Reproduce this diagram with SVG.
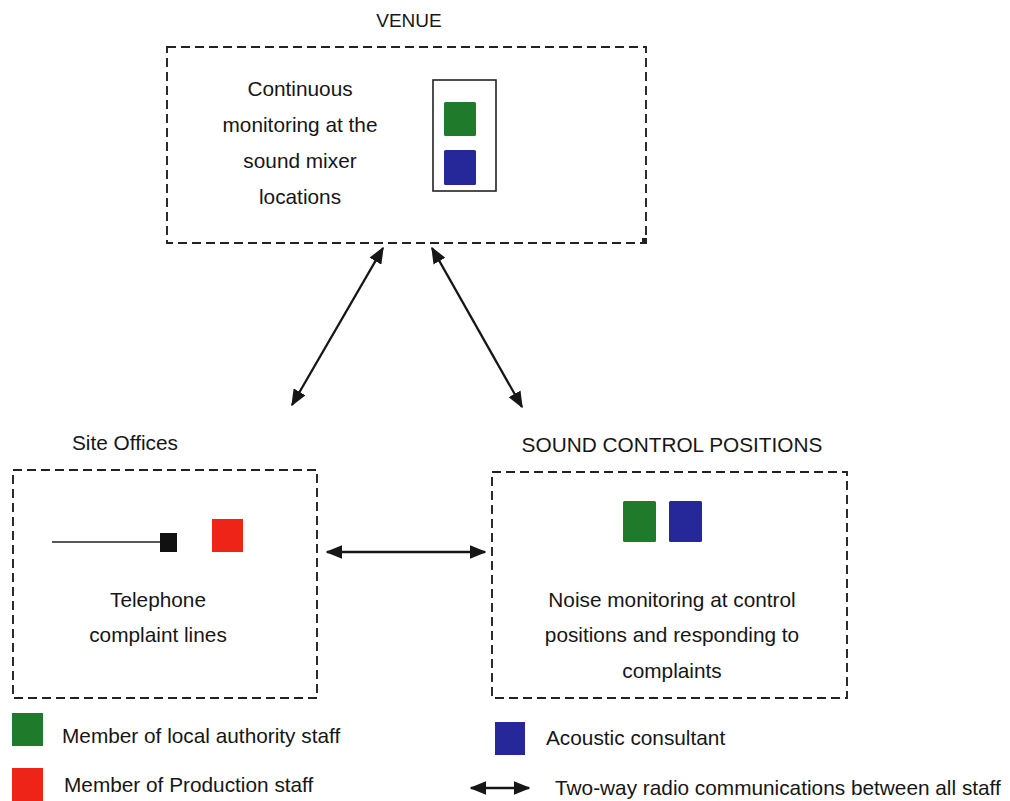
<svg xmlns="http://www.w3.org/2000/svg" width="1010" height="801" viewBox="0 0 1010 801">
<defs>
<style>
text{font-family:"Liberation Sans",Arial,sans-serif;fill:#161616;font-size:20.8px}
.c{text-anchor:middle}
.dash{fill:none;stroke:#222;stroke-width:1.9;stroke-dasharray:9 5}
.g{fill:#1f7a2c}
.b{fill:#26289a}
.r{fill:#ef2419}
.conn{stroke:#161616;stroke-width:2.3;fill:none;marker-start:url(#ah);marker-end:url(#ah)}
</style>
<marker id="ah" viewBox="0 0 12 10" refX="11" refY="5" markerWidth="7.2" markerHeight="6" orient="auto-start-reverse" markerUnits="strokeWidth">
<path d="M0,0 L12,5 L0,10 z" fill="#161616"/>
</marker>
</defs>
<rect width="1010" height="801" fill="#fff"/>

<g id="venue">
<text class="c" x="409" y="27" style="font-size:19px">VENUE</text>
<rect class="dash" x="167" y="47" width="479" height="196"/>
<rect x="642" y="238" width="5" height="5" fill="#222"/>
<text class="c" x="300" y="96">Continuous</text>
<text class="c" x="300" y="132">monitoring at the</text>
<text class="c" x="300" y="168">sound mixer</text>
<text class="c" x="300" y="204">locations</text>
<rect x="433" y="80" width="63" height="111" fill="none" stroke="#222" stroke-width="1.6"/>
<rect class="g" x="444" y="102" width="32" height="34" rx="1.5"/>
<rect class="b" x="444" y="150" width="32" height="35" rx="1.5"/>
</g>

<g id="site-offices">
<text x="72" y="450">Site Offices</text>
<rect class="dash" x="13" y="470" width="304" height="228"/>
<line x1="52" y1="542" x2="162" y2="542" stroke="#222" stroke-width="1.5"/>
<rect x="160" y="533" width="17" height="19" fill="#111"/>
<rect class="r" x="212" y="519" width="31" height="33"/>
<text class="c" x="158" y="607">Telephone</text>
<text class="c" x="158" y="642">complaint lines</text>
</g>

<g id="sound-control">
<text class="c" x="672" y="452">SOUND CONTROL POSITIONS</text>
<rect class="dash" x="492" y="472" width="355" height="226"/>
<rect class="g" x="623" y="501" width="33" height="41" rx="1.5"/>
<rect class="b" x="669" y="501" width="33" height="41" rx="1.5"/>
<text class="c" x="672" y="607">Noise monitoring at control</text>
<text class="c" x="672" y="642">positions and responding to</text>
<text class="c" x="672" y="678">complaints</text>
</g>

<g id="connectors">
<line class="conn" x1="383" y1="248" x2="292" y2="405"/>
<line class="conn" x1="432" y1="248" x2="522" y2="407"/>
<line class="conn" x1="327" y1="552" x2="485" y2="552"/>
</g>

<g id="legend">
<rect class="g" x="12" y="713" width="31" height="33"/>
<text x="62" y="743">Member of local authority staff</text>
<rect class="r" x="12" y="768" width="31" height="33"/>
<text x="64" y="792">Member of Production staff</text>
<rect class="b" x="495" y="722" width="30" height="33"/>
<text x="546" y="745">Acoustic consultant</text>
<line class="conn" x1="471" y1="788" x2="529" y2="788"/>
<text x="555" y="795">Two-way radio communications between all staff</text>
</g>
</svg>
